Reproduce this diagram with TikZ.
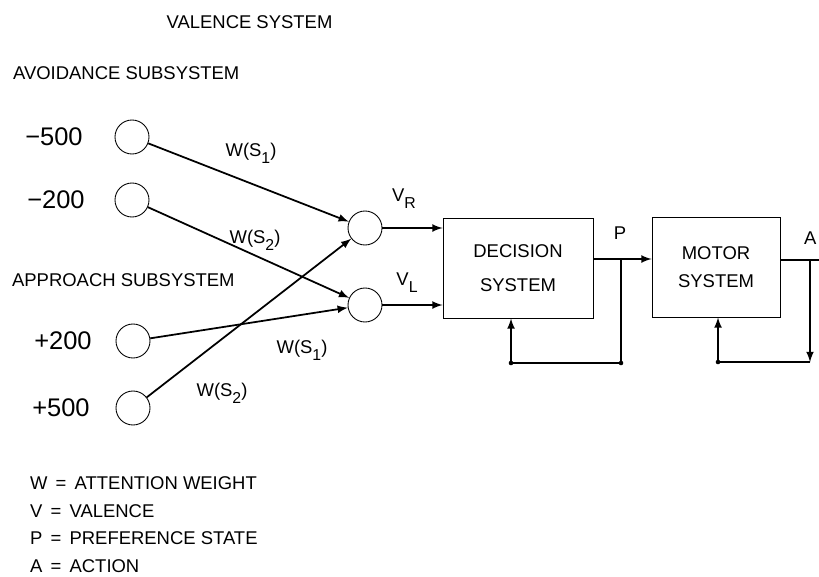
\documentclass[tikz,border=0pt]{standalone}
\usepackage{fontspec}
\setmainfont{Liberation Sans}
\usepackage{tikz}
\usetikzlibrary{arrows,positioning}

\newcommand{\lowsub}[1]{\raisebox{-0.7ex}{\fontsize{9}{10}\selectfont #1}}

\tikzset{
  unit/.style={circle,draw=black,line width=0.5pt,minimum size=0.68cm,inner sep=0pt},
  sysbox/.style={rectangle,draw=black,line width=0.5pt,align=center,font=\fontsize{10.5}{12.6}\selectfont},
  lbl/.style={font=\fontsize{10.5}{12.6}\selectfont,inner sep=1pt},
  num/.style={font=\fontsize{14.5}{17}\selectfont,anchor=east,inner sep=0pt},
  wire/.style={line width=1pt},
}

\begin{document}
\begin{tikzpicture}
\useasboundingbox (0,0) rectangle (16.38,-11.52);
% headings
\node at (4.99,-0.44)[lbl](title){VALENCE SYSTEM};
\node at (0.22,-1.46)[lbl,anchor=west](avoid){AVOIDANCE SUBSYSTEM};
\node at (0.2,-5.6)[lbl,anchor=west](approach){APPROACH SUBSYSTEM};

% input units
\node at (2.64,-2.74)[unit](in1){};
\node at (2.64,-4.0)[unit](in2){};
\node at (2.66,-6.82)[unit](in3){};
\node at (2.66,-8.16)[unit](in4){};
\node at (1.66,-2.74)[num](n1){−500};
\node at (1.7,-4.0)[num](n2){−200};
\node at (1.84,-6.82)[num](n3){+200};
\node at (1.8,-8.16)[num](n4){+500};

% valence units
\node at (7.3,-4.56)[unit](vr){};
\node at (7.3,-6.1)[unit](vl){};
\node at (8.08,-3.98)[lbl](vrl){V\lowsub{R}};
\node at (8.14,-5.66)[lbl](vll){V\lowsub{L}};

% systems
\node at (10.36,-5.36)[sysbox,minimum width=3.0cm,minimum height=2.0cm](dec){DECISION\\[7pt]SYSTEM};
\node at (14.32,-5.34)[sysbox,minimum width=2.56cm,minimum height=2.0cm](mot){MOTOR\\[3.5pt]SYSTEM};
\node at (12.4,-4.66)[lbl](pl){P};
\node at (16.37,-4.76)[lbl,anchor=east](al){A};

% weights
\draw[wire,-latex] (in1) -- (vr);
\draw[wire,-latex] (in2) -- (vl);
\draw[wire,-latex] (in3) -- (vl);
\draw[wire,-latex] (in4) -- (vr);
\node at (5.02,-3.06)[lbl](w1){W(S\lowsub{1})};
\node at (5.1,-4.8)[lbl](w2){W(S\lowsub{2})};
\node at (6.04,-7.0)[lbl](w3){W(S\lowsub{1})};
\node at (4.44,-7.86)[lbl](w4){W(S\lowsub{2})};

\draw[wire,-latex] (vr) -- (vr -| dec.west);
\draw[wire,-latex] (vl) -- (vl -| dec.west);

% decision loop
\coordinate (pj) at (12.42,-5.18);
\coordinate (pb) at (12.42,-7.26);
\coordinate (db) at (10.22,-7.26);
\draw[wire,-latex] (dec.east |- pj) -- (mot.west |- pj);
\draw[wire] (pj) -- (pb) -- (db);
\draw[wire,-latex] (db) -- (db |- dec.south);
\fill (pb) circle (1.3pt);
\fill (db) circle (1.3pt);

% motor loop
\coordinate (aj) at (16.2,-5.2);
\coordinate (ab) at (16.2,-7.24);
\coordinate (mb) at (14.36,-7.24);
\coordinate (aout) at (16.6,-5.2);
\draw[wire] (mot.east |- aj) -- (aout);
\draw[wire,-latex] (aj) -- (ab);
\draw[wire] (ab) -- (mb);
\draw[wire,-latex] (mb) -- (mb |- mot.south);
\fill (mb) circle (1.3pt);

% legend
\node at (0.56,-9.66)[lbl,anchor=west](k1){W \,=\, ATTENTION WEIGHT};
\node at (0.56,-10.22)[lbl,anchor=west](k2){V \,=\, VALENCE};
\node at (0.56,-10.76)[lbl,anchor=west](k3){P \,=\, PREFERENCE STATE};
\node at (0.56,-11.32)[lbl,anchor=west](k4){A \,=\, ACTION};
\end{tikzpicture}
\end{document}
